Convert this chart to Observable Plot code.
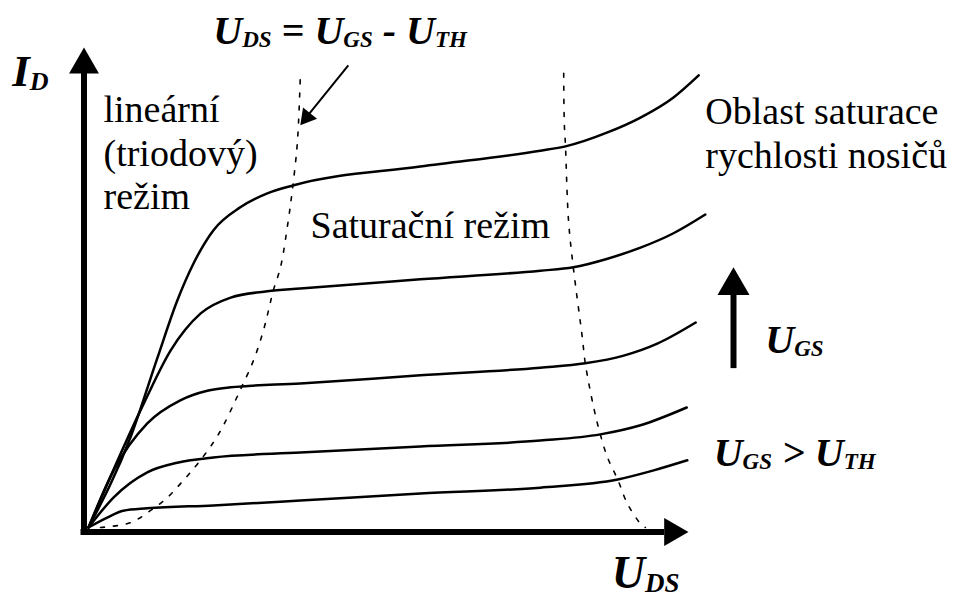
<!DOCTYPE html>
<html>
<head>
<meta charset="utf-8">
<script src="https://cdn.jsdelivr.net/npm/d3@7"></script>
<script src="https://cdn.jsdelivr.net/npm/@observablehq/plot@0.6"></script>
<style>
  body { margin: 0; background: #fff; }
  svg { display: block; }
</style>
</head>
<body>
<div id="chart"></div>
<script>
// Output characteristics I_D(U_DS) for five gate voltages (arbitrary units)
const curveGS1 = [[0,0],[3.2,2.1],[5.8,3.5],[9.8,4.0],[20.8,4.6],[35.3,5.6],[55.3,7.1],[75.3,8.3],[88.2,10.0],[94.2,11.9],[99.8,14.0]];
const curveGS2 = [[0,0],[4.2,6.3],[9.8,11.5],[14.8,13.5],[20.8,14.6],[35.3,15.6],[55.3,16.9],[75.3,18.1],[85.3,19.4],[92.0,21.3],[99.7,25.0]];
const curveGS3 = [[0,0],[4.2,11.9],[9.8,21.7],[15.3,26.5],[19.8,28.5],[23.7,29.2],[35.3,30.0],[55.3,31.7],[75.3,33.3],[82.8,34.2],[89.2,35.8],[94.8,38.3],[101.2,42.7]];
const curveGS4 = [[0,0],[9.2,25.8],[13.7,36.9],[18.7,44.6],[23.7,47.9],[29.8,49.2],[35.3,49.8],[55.3,51.7],[75.3,53.5],[80.8,54.2],[86.5,56.0],[92.0,58.3],[97.5,61.3],[102.8,65.2]];
const curveGS5 = [[0,0],[7.0,18.8],[11.5,35.4],[14.8,47.3],[17.5,55.0],[20.8,61.9],[25.3,66.7],[29.8,69.6],[34.2,71.3],[55.3,75.2],[75.3,78.5],[79.5,79.4],[86.5,82.3],[92.0,85.4],[97.5,89.6],[101.7,94.2]];
// boundary U_DS = U_GS - U_TH (dashed parabola)
const pinchOff = [[2,0],[7,1],[10.3,3.5],[13.2,6.3],[15.8,9.8],[18.2,13.3],[20.8,17.7],[22.5,21.3],[24.5,26.5],[25.8,30],[27.5,34.8],[29,40.4],[30,45.2],[30.8,49.4],[32,54.2],[33.3,64],[34,70.6],[34.7,78.5],[35,84.2],[35.3,93.8]];
// onset of carrier velocity saturation (dashed)
const velocitySat = [[79.2,94.6],[79.3,84.2],[79.5,79.4],[80,64],[80.8,54.2],[82.3,39.6],[82.8,34.2],[84.2,25],[85.3,19.4],[86.5,14.6],[88.2,10],[89.8,5],[92,0.8],[92.8,0]];

const seriesNames = ["UGS1","UGS2","UGS3","UGS4","UGS5"];
const curves = [curveGS1, curveGS2, curveGS3, curveGS4, curveGS5];

const axisLabelY = "I_{D}";
const axisLabelX = "U_{DS}";
const boundaryLabel = "U_{DS} = U_{GS} - U_{TH}";
const linearLabel = "lineární\n(triodový)\nrežim";
const saturationLabel = "Saturační režim";
const velocityLabel = "Oblast saturace\nrychlosti nosičů";
const gateLabel = "U_{GS}";
const thresholdLabel = "U_{GS} > U_{TH}";

const curveRows = curves.flatMap((pts, i) => pts.map(([x, y]) => ({series: seriesNames[i], x, y})));
const toRows = pts => pts.map(([x, y]) => ({x, y}));

const serif = "Liberation Serif";
const bi = {fontFamily: serif, fontWeight: "bold", fontStyle: "italic", fontSize: 40, textAnchor: "start", lineAnchor: "bottom", fill: "black"};
const rg = {fontFamily: serif, fontSize: 38, textAnchor: "start", lineAnchor: "bottom", lineHeight: 1.15, fill: "black"};

const chart = Plot.plot({
  width: 958,
  height: 601,
  margin: 0,
  x: {domain: [0, 100], range: [88, 688], axis: null},
  y: {domain: [0, 100], range: [527, 47], axis: null},
  style: {background: "white", overflow: "visible"},
  marks: [
    // dashed region boundaries
    Plot.line(toRows(pinchOff), {x: "x", y: "y", curve: "catmull-rom", stroke: "black", strokeWidth: 1.6, strokeDasharray: "4,9"}),
    Plot.line(toRows(velocitySat), {x: "x", y: "y", curve: "catmull-rom", stroke: "black", strokeWidth: 1.6, strokeDasharray: "4,9"}),
    // characteristic curves
    Plot.line(curveRows, {x: "x", y: "y", z: "series", curve: "monotone-x", stroke: "black", strokeWidth: 2.5}),
    // axes
    Plot.ruleX([{x: 0, y1: -1.56, y2: 96}], {x: "x", y1: "y1", y2: "y2", dx: -4.5, stroke: "black", strokeWidth: 6}),
    Plot.dot([{x: 0, y: 100}], {x: "x", y: "y", symbol: "triangle", r: 11.1, fill: "black", dx: -4.5, dy: 17.3}),
    Plot.ruleY([{y: 0, x1: -1.25, x2: 96}], {y: "y", x1: "x1", x2: "x2", dy: 4.5, stroke: "black", strokeWidth: 6}),
    Plot.dot([{x: 100, y: 0}], {x: "x", y: "y", symbol: "triangle", r: 10.4, fill: "black", dx: -16.2, dy: 4.5, rotate: 90}),
    // U_GS increasing arrow
    Plot.ruleX([{x: 107.5, y1: 33.1, y2: 50}], {x: "x", y1: "y1", y2: "y2", stroke: "black", strokeWidth: 6}),
    Plot.dot([{x: 107.5, y: 54.2}], {x: "x", y: "y", symbol: "triangle", r: 11.9, fill: "black", dy: 18.5}),
    // pointer to the boundary
    Plot.link([{x1: 43.3, y1: 96.3, x2: 36.4, y2: 85.6}], {x1: "x1", y1: "y1", x2: "x2", y2: "y2", stroke: "black", strokeWidth: 2}),
    Plot.dot([{x: 35.3, y: 83.8}], {x: "x", y: "y", symbol: "triangle", r: 6.7, fill: "black", dx: 6.5, dy: -8.1, rotate: 218.7}),
    // labels
    Plot.text([axisLabelY], {text: d => d, x: -12.7, y: 91.9, ...bi, fontSize: 45}),
    Plot.text([axisLabelX], {text: d => d, x: 87.2, y: -12.7, ...bi, fontSize: 46}),
    Plot.text([boundaryLabel], {text: d => d, x: 20.8, y: 100.8, ...bi}),
    Plot.text([gateLabel], {text: d => d, x: 112.8, y: 36.3, ...bi}),
    Plot.text([thresholdLabel], {text: d => d, x: 104.2, y: 12.9, ...bi}),
    Plot.text([linearLabel], {text: d => d, x: 2.5, y: 66.3, ...rg}),
    Plot.text([saturationLabel], {text: d => d, x: 37, y: 60.4, ...rg}),
    Plot.text([velocityLabel], {text: d => d, x: 102.8, y: 75, ...rg})
  ]
});

// turn "_{...}" into real subscript tspans, sized relative to the label
function applySubscripts(svg) {
  svg.querySelectorAll("text").forEach(t => {
    const s = t.textContent;
    if (!s.includes("_{")) return;
    const base = parseFloat(t.closest("[font-size]")?.getAttribute("font-size")) || 40;
    const subSize = Math.round(base * 0.58);
    const shift = Math.round(base * 0.08);
    const re = /_\{([^}]*)\}/g;
    const parts = [];
    let last = 0, m;
    while ((m = re.exec(s))) {
      parts.push([s.slice(last, m.index), false]);
      parts.push([m[1], true]);
      last = re.lastIndex;
    }
    parts.push([s.slice(last), false]);
    t.textContent = "";
    let lowered = false;
    for (const [txt, sub] of parts) {
      if (!txt) continue;
      const ts = document.createElementNS("http://www.w3.org/2000/svg", "tspan");
      if (sub) {
        ts.setAttribute("font-size", subSize);
        if (!lowered) { ts.setAttribute("dy", shift); lowered = true; }
      } else if (lowered) {
        ts.setAttribute("dy", -shift);
        lowered = false;
      }
      ts.textContent = txt;
      t.appendChild(ts);
    }
  });
}
applySubscripts(chart);
document.getElementById("chart").appendChild(chart);
</script>
</body>
</html>
